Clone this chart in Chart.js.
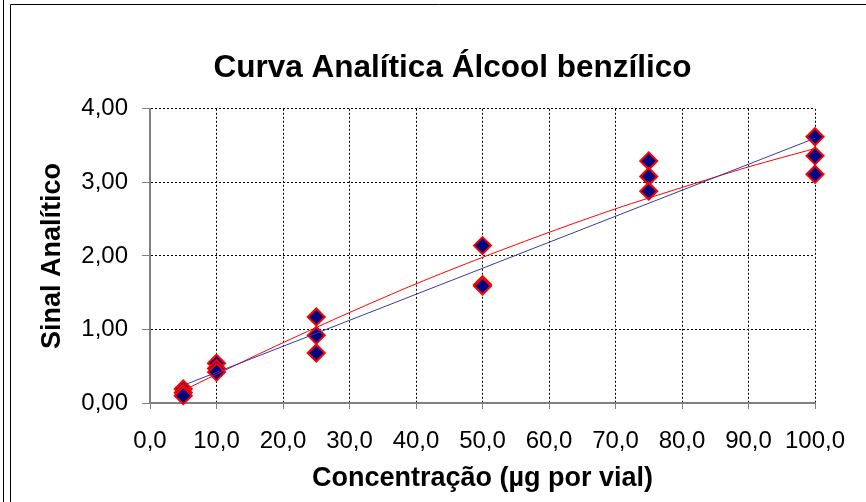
<!DOCTYPE html>
<html lang="pt">
<head>
<meta charset="utf-8">
<title>Curva Analítica Álcool benzílico</title>
<script src="https://cdn.jsdelivr.net/npm/chart.js@4"></script>
<style>
    html, body { margin: 0; padding: 0; background: #fff; }
    #grafico-wrap { position: relative; width: 866px; height: 502px; }
</style>
</head>
<body>
<div id="grafico-wrap"><canvas id="curva-chart"></canvas></div>
<script>
// Pontos medidos (concentração x sinal)
const concentracoes = [5, 5, 5, 10, 10, 10, 25, 25, 25, 50, 50, 50, 75, 75, 75, 100, 100, 100];
const sinais = [0.19, 0.14, 0.10, 0.54, 0.47, 0.42, 1.17, 0.92, 0.68, 2.14, 1.61, 1.59, 3.29, 3.08, 2.88, 3.62, 3.36, 3.11];

// Linha de tendência linear (azul) - extremos
const linearX = [5, 100];
const linearY = [0.24, 3.60];

// Linha de tendência polinomial (vermelha)
const poliX = [5, 10, 20, 30, 40, 50, 60, 70, 80, 90, 100];
const poliY = [0.17, 0.39, 0.82, 1.23, 1.62, 1.98, 2.32, 2.64, 2.93, 3.21, 3.46];

// Rótulos dos eixos
const tituloGrafico = 'Curva Analítica Álcool benzílico';
const tituloX = 'Concentração (µg por vial)';
const tituloY = 'Sinal Analítico';

const fonte = '"Liberation Sans", Arial, sans-serif';

function paraPontos(xs, ys) {
    return xs.map((x, i) => ({ x: x, y: ys[i] }));
}

function virgula(valor, casas) {
    return Number(valor).toFixed(casas).replace('.', ',');
}

// Bordas externas do quadro (estilo Excel)
const molduraPlugin = {
    id: 'moldura',
    afterDraw(chart) {
        const ctx = chart.ctx;
        ctx.save();
        ctx.strokeStyle = '#000';
        ctx.lineWidth = 1;
        ctx.beginPath();
        ctx.moveTo(3.5, 0);
        ctx.lineTo(3.5, chart.height);
        ctx.moveTo(10.5, chart.height);
        ctx.lineTo(10.5, 4.5);
        ctx.lineTo(chart.width, 4.5);
        ctx.stroke();
        ctx.restore();
    }
};

const ctx = document.getElementById('curva-chart').getContext('2d');

new Chart(ctx, {
    type: 'scatter',
    data: {
        datasets: [
            {
                type: 'line',
                label: 'Linear',
                data: paraPontos(linearX, linearY),
                borderColor: '#3a3aa8',
                borderWidth: 1,
                pointRadius: 0,
                fill: false
            },
            {
                type: 'line',
                label: 'Polinomial',
                data: paraPontos(poliX, poliY),
                borderColor: '#ff0000',
                borderWidth: 1,
                pointRadius: 0,
                tension: 0.3,
                fill: false
            },
            {
                label: 'Sinal',
                data: paraPontos(concentracoes, sinais),
                clip: false,
                pointStyle: 'rectRot',
                pointRadius: 8.5,
                pointBackgroundColor: '#000080',
                pointBorderColor: '#ff0000',
                pointBorderWidth: 2
            }
        ]
    },
    options: {
        responsive: true,
        maintainAspectRatio: false,
        animation: false,
        layout: {
            padding: { left: 39, right: 0, top: 0, bottom: 0 }
        },
        plugins: {
            legend: { display: false },
            tooltip: { enabled: false },
            title: {
                display: true,
                text: tituloGrafico,
                color: '#000',
                font: { family: fonte, size: 31.5, weight: 'bold', lineHeight: 1.2 },
                padding: { top: 49, bottom: 22 }
            }
        },
        scales: {
            x: {
                type: 'linear',
                min: 0,
                max: 100,
                afterFit: function(scale) { scale.height = 99; },
                ticks: {
                    stepSize: 10,
                    color: '#000',
                    padding: 18,
                    maxRotation: 0,
                    font: { family: fonte, size: 24 },
                    callback: function(value) { return virgula(value, 1); }
                },
                grid: {
                    color: '#000',
                    tickColor: '#808080',
                    tickBorderDash: [],
                    tickLength: 6,
                    lineWidth: 1
                },
                border: { color: '#808080', width: 2, dash: [2, 2] },
                title: {
                    display: true,
                    text: tituloX,
                    color: '#000',
                    font: { family: fonte, size: 27, weight: 'bold', lineHeight: 1 },
                    padding: { top: 0, bottom: 10 }
                }
            },
            y: {
                type: 'linear',
                min: 0,
                max: 4,
                afterFit: function(scale) { scale.width = 111; },
                ticks: {
                    stepSize: 1,
                    color: '#000',
                    padding: 14,
                    font: { family: fonte, size: 24 },
                    callback: function(value) { return virgula(value, 2); }
                },
                grid: {
                    color: '#000',
                    tickColor: '#808080',
                    tickBorderDash: [],
                    tickLength: 8,
                    lineWidth: 1
                },
                border: { color: '#808080', width: 2, dash: [2, 2] },
                title: {
                    display: true,
                    text: tituloY,
                    color: '#000',
                    font: { family: fonte, size: 27, weight: 'bold', lineHeight: 1 },
                    padding: { top: 0, bottom: 0 }
                }
            },
            // eixo vazio à direita só para reservar a margem
            margem: {
                type: 'linear',
                position: 'right',
                afterFit: function(scale) { scale.width = 51; },
                ticks: { display: false },
                grid: { display: false, drawOnChartArea: false },
                border: { display: false }
            }
        }
    },
    plugins: [molduraPlugin]
});
</script>
</body>
</html>
